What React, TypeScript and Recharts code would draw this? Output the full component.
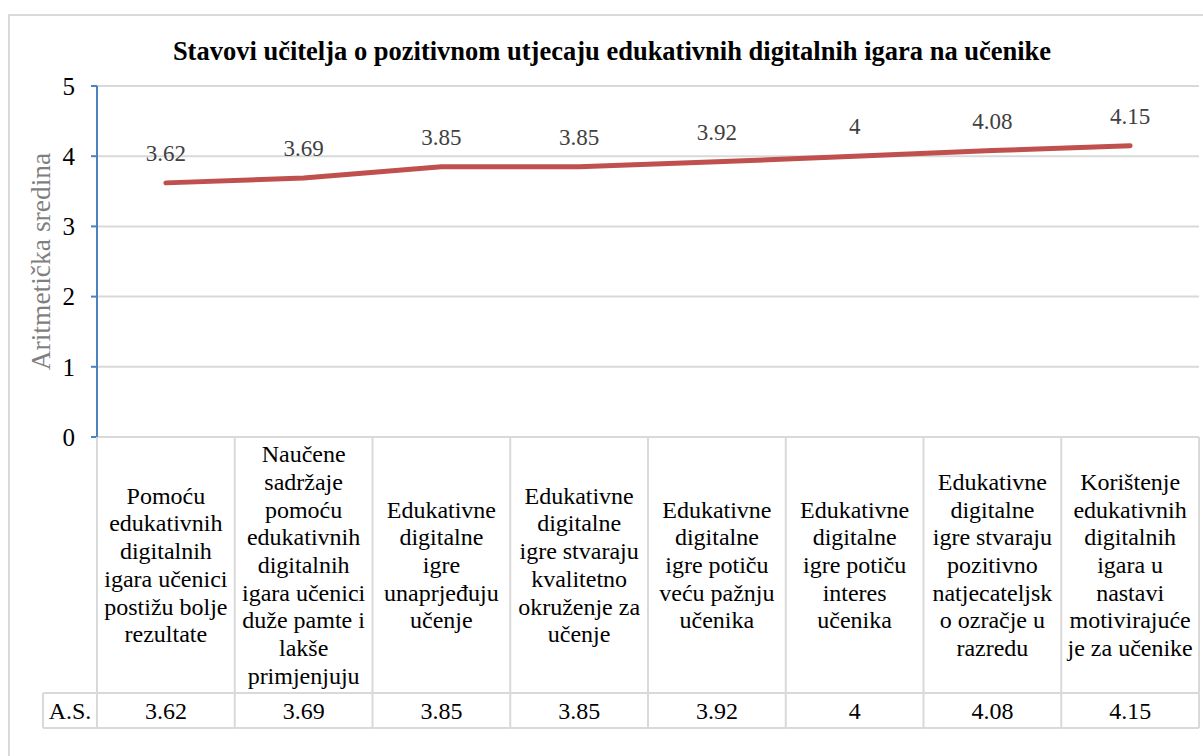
import React from 'react';
import { LineChart, Line, XAxis, YAxis, CartesianGrid, LabelList } from 'recharts';

const categories: string[][] = [
  ['Pomoću', 'edukativnih', 'digitalnih', 'igara učenici', 'postižu bolje', 'rezultate'],
  ['Naučene', 'sadržaje', 'pomoću', 'edukativnih', 'digitalnih', 'igara učenici', 'duže pamte i', 'lakše', 'primjenjuju'],
  ['Edukativne', 'digitalne', 'igre', 'unaprjeđuju', 'učenje'],
  ['Edukativne', 'digitalne', 'igre stvaraju', 'kvalitetno', 'okruženje za', 'učenje'],
  ['Edukativne', 'digitalne', 'igre potiču', 'veću pažnju', 'učenika'],
  ['Edukativne', 'digitalne', 'igre potiču', 'interes', 'učenika'],
  ['Edukativne', 'digitalne', 'igre stvaraju', 'pozitivno', 'natjecateljsk', 'o ozračje u', 'razredu'],
  ['Korištenje', 'edukativnih', 'digitalnih', 'igara u', 'nastavi', 'motivirajuće', 'je za učenike'],
];
const values: number[] = [3.62, 3.69, 3.85, 3.85, 3.92, 4, 4.08, 4.15];
const yTicks: number[] = [0, 1, 2, 3, 4, 5];
const seriesName = 'A.S.';
const title = 'Stavovi učitelja o pozitivnom utjecaju edukativnih digitalnih igara na učenike';
const yAxisTitle = 'Aritmetička sredina';

const data = categories.map((lines, i) => ({ cat: lines.join(' '), lines, value: values[i] }));

const W = 1203;
const H = 756;
const M_TOP = 86;
const M_RIGHT = 4;
const Y_W = 97;
const X_H = 319;
const PLOT_BOTTOM = H - X_H;
const PLOT_W = W - Y_W - M_RIGHT;
const COL_W = PLOT_W / categories.length;
const LABEL_BOTTOM = 693;
const TABLE_BOTTOM = 728;
const AS_LEFT = 43;
const LINE_H = 27.7;
const FONT = '"Liberation Serif", "Times New Roman", serif';
const BORDER = '#D9D9D9';
const TXT = { fontFamily: FONT, fontSize: 24 };

const TableTick = (props: any) => {
  const { x, index, payload } = props;
  const d = data[index] || data.find((r) => r.cat === payload.value);
  const half = COL_W / 2;
  const left = x - half;
  const right = x + half;
  const lines: string[] = d ? d.lines : [];
  const mid = (PLOT_BOTTOM + LABEL_BOTTOM) / 2;
  const firstY = mid - ((lines.length - 1) * LINE_H) / 2;
  return (
    <g>
      {lines.map((ln, k) => (
        <text
          key={k}
          x={x}
          y={firstY + k * LINE_H}
          textAnchor="middle"
          dominantBaseline="central"
          style={TXT}
          fill="#000"
        >
          {ln}
        </text>
      ))}
      <text
        x={x}
        y={(LABEL_BOTTOM + TABLE_BOTTOM) / 2}
        textAnchor="middle"
        dominantBaseline="central"
        style={TXT}
        fill="#000"
      >
        {d ? String(d.value) : ''}
      </text>
      <line x1={right} y1={PLOT_BOTTOM} x2={right} y2={TABLE_BOTTOM} stroke={BORDER} strokeWidth={2} />
      <line x1={left} y1={LABEL_BOTTOM} x2={right} y2={LABEL_BOTTOM} stroke={BORDER} strokeWidth={2} />
      <line x1={left} y1={TABLE_BOTTOM} x2={right} y2={TABLE_BOTTOM} stroke={BORDER} strokeWidth={2} />
      {index === 0 && (
        <g>
          <line x1={left} y1={PLOT_BOTTOM} x2={left} y2={TABLE_BOTTOM} stroke={BORDER} strokeWidth={2} />
          <line x1={AS_LEFT} y1={LABEL_BOTTOM} x2={left} y2={LABEL_BOTTOM} stroke={BORDER} strokeWidth={2} />
          <line x1={AS_LEFT} y1={TABLE_BOTTOM} x2={left} y2={TABLE_BOTTOM} stroke={BORDER} strokeWidth={2} />
          <line x1={AS_LEFT} y1={LABEL_BOTTOM} x2={AS_LEFT} y2={TABLE_BOTTOM} stroke={BORDER} strokeWidth={2} />
          <text
            x={(AS_LEFT + left) / 2}
            y={(LABEL_BOTTOM + TABLE_BOTTOM) / 2}
            textAnchor="middle"
            dominantBaseline="central"
            style={TXT}
            fill="#000"
          >
            {seriesName}
          </text>
        </g>
      )}
    </g>
  );
};

const YLabel = (props: any) => {
  const vb = props.viewBox || {};
  const cy = (vb.y ?? M_TOP) + (vb.height ?? PLOT_BOTTOM - M_TOP) / 2;
  return (
    <text
      x={40}
      y={cy}
      transform={`rotate(-90, 40, ${cy})`}
      textAnchor="middle"
      dominantBaseline="central"
      style={{ fontFamily: FONT, fontSize: 27.5 }}
      fill="#7F7F7F"
    >
      {yAxisTitle}
    </text>
  );
};

export default function App() {
  return (
    <div style={{ position: 'absolute', left: 0, top: 0, width: W, height: H, overflow: 'hidden', background: '#fff' }}>
      <div
        style={{
          position: 'absolute',
          left: 8,
          top: 14,
          width: 1200,
          height: 800,
          border: `2px solid ${BORDER}`,
          boxSizing: 'border-box',
        }}
      />
      <div
        style={{
          position: 'absolute',
          left: 0,
          top: 35,
          width: 1224,
          textAlign: 'center',
          fontFamily: FONT,
          fontWeight: 'bold',
          fontSize: 26.5,
          lineHeight: '32px',
          color: '#000',
        }}
      >
        {title}
      </div>
      <div style={{ position: 'absolute', left: 0, top: 0 }}>
        <LineChart width={W} height={H} data={data} margin={{ top: M_TOP, right: M_RIGHT, bottom: 0, left: 0 }}>
          <CartesianGrid vertical={false} stroke={BORDER} strokeWidth={2} />
          <XAxis
            dataKey="cat"
            scale="band"
            height={X_H}
            axisLine={false}
            tickLine={false}
            interval={0}
            tick={<TableTick />}
          />
          <YAxis
            width={Y_W}
            domain={[0, 5]}
            ticks={yTicks}
            interval={0}
            axisLine={{ stroke: '#4F81BD', strokeWidth: 2 }}
            tickLine={{ stroke: '#4F81BD', strokeWidth: 2 }}
            tickSize={6}
            tickMargin={16}
            tick={{ fontFamily: FONT, fontSize: 25, fill: '#000' }}
            label={<YLabel />}
          />
          <Line
            type="linear"
            dataKey="value"
            stroke="#C0504D"
            strokeWidth={5}
            strokeLinecap="round"
            dot={false}
            activeDot={false}
            isAnimationActive={false}
          >
            <LabelList dataKey="value" position="top" offset={22} fill="#404040" style={{ fontFamily: FONT, fontSize: 23 }} />
          </Line>
        </LineChart>
      </div>
    </div>
  );
}
